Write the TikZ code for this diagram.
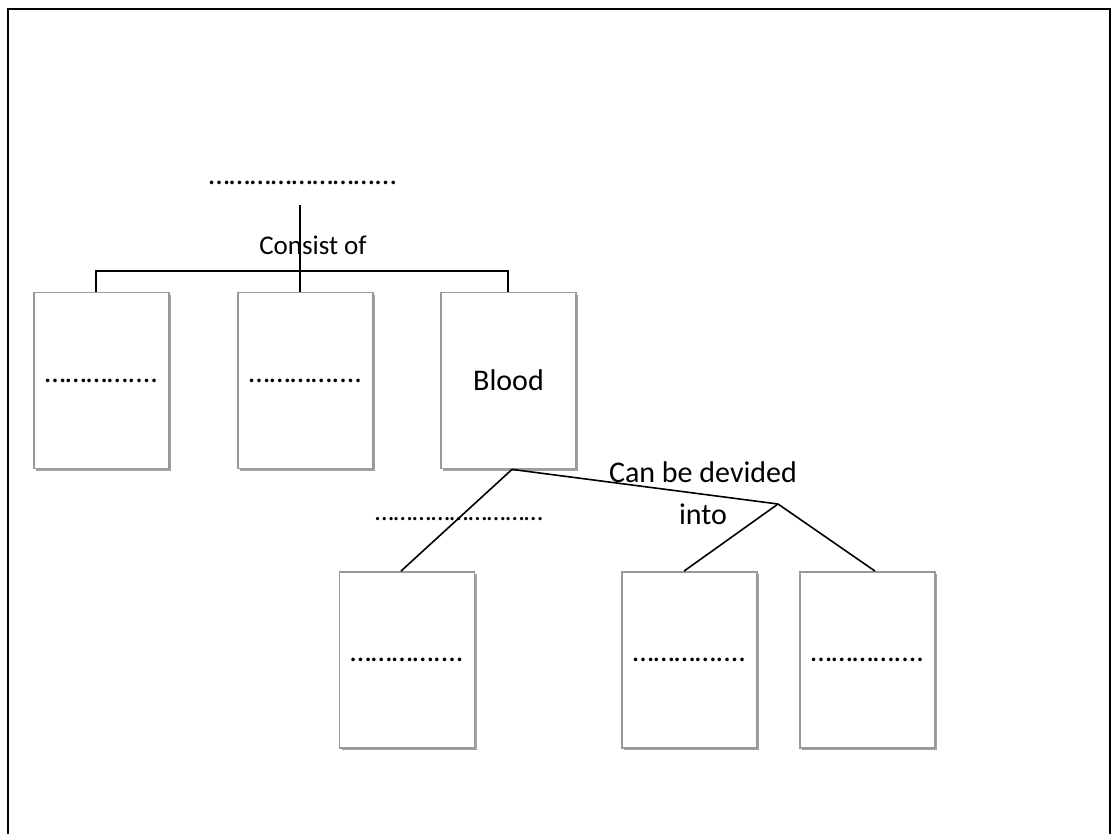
\documentclass[tikz,border=0pt]{standalone}
\usepackage{fontspec}
\setmainfont{Carlito}
\usetikzlibrary{shadows,calc}
\begin{document}
\begin{tikzpicture}[x=1pt,y=-1pt,
  box/.style={draw=gray!80, line width=1.8pt, fill=white, minimum width=135pt, minimum height=176pt, inner sep=0pt, font=\fontsize{30}{36}\selectfont, drop shadow={shadow xshift=2pt, shadow yshift=-2pt, fill=gray!80, opacity=0.9}},
  lbl/.style={inner sep=0pt, font=\fontsize{30}{36}\selectfont},
  conn/.style={line width=1.6pt, black}]
\useasboundingbox (0,0) rectangle (1118,834);
\draw[line width=2pt] (8,840) -- (8,9) -- (1110,9) -- (1110,840);
% boxes
\node[box] (b1) at (101.5,380.5) {…………....};
\node[box] (b2) at (305.5,380.5) {…………....};
\node[box] (b3) at (508.5,380.5) {Blood};
\node[box] (b4) at (407,660) {…………....};
\node[box] (b5) at (689.5,660) {…………....};
\node[box] (b6) at (867.5,660) {…………....};
% labels
\node[lbl] (t) at (303,183) {……………………...};
\node[lbl, font=\fontsize{27}{31}\selectfont] (cons) at (313,245) {Consist of};
\node[lbl] (cbd) at (703,472) {Can be devided};
\node[lbl] (into) at (703,514) {into};
\node[lbl, font=\fontsize{27}{31}\selectfont] (d2) at (459,519) {………………………};
% connectors
\coordinate (top) at (300,205);
\coordinate (bar) at (300,271);
\coordinate (j) at (778,504);
\draw[conn] (top) -- (top |- b2.north);
\draw[conn] ([xshift=-5.5pt]b1.north) |- (bar) -| ([xshift=-0.5pt]b3.north);
\draw[conn] ([xshift=3.5pt]b3.south) -- ([xshift=-6pt]b4.north);
\draw[conn] ([xshift=3.5pt]b3.south) -- (j);
\draw[conn] (j) -- ([xshift=-5.5pt]b5.north);
\draw[conn] (j) -- ([xshift=7.5pt]b6.north);
\end{tikzpicture}
\end{document}
